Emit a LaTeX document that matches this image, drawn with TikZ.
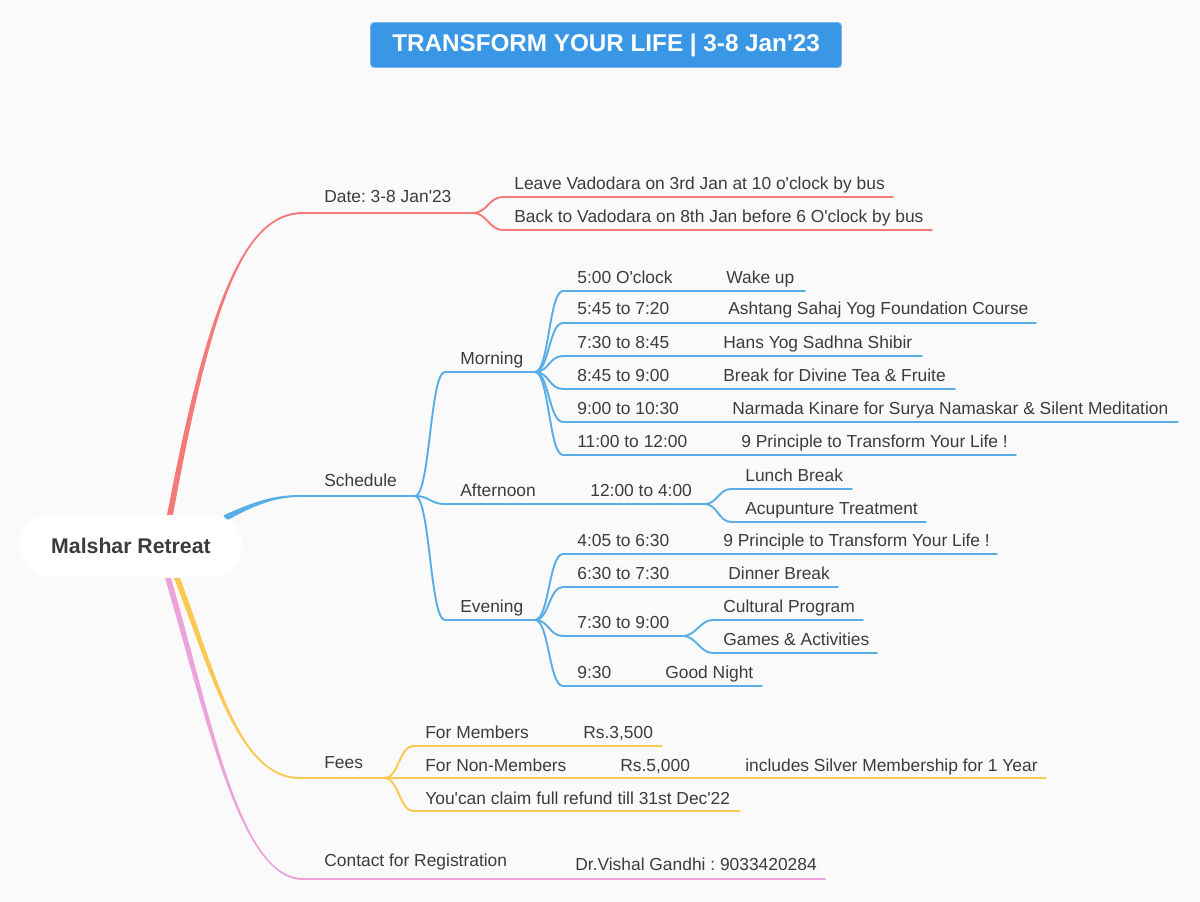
\documentclass[tikz,border=0pt]{standalone}
\usepackage{fontspec}
\setmainfont{Liberation Sans}
\usetikzlibrary{calc}
\frenchspacing

\definecolor{bgcol}{HTML}{FAFAFA}
\definecolor{titleblue}{HTML}{3A97E6}
\definecolor{txtgray}{HTML}{3C3C3C}
\definecolor{mmred}{HTML}{F47A7A}
\definecolor{mmblue}{HTML}{5AAEE6}
\definecolor{mmyellow}{HTML}{FBC853}
\definecolor{mmpink}{HTML}{EBA3DA}

\newcommand\apo{\textquotesingle}

\tikzset{
  lbl/.style={font=\fontsize{9.9}{11.5}\selectfont, text=txtgray, anchor=base west, inner sep=0pt},
  titlebox/.style={fill=titleblue, draw=titleblue!70!white, text=white, rounded corners=2pt,
    minimum width=9.42cm, minimum height=0.9cm, inner sep=0pt,
    font=\bfseries\fontsize{13.8}{16}\selectfont},
  rootbox/.style={fill=white, rounded corners=0.6cm, minimum width=4.44cm, minimum height=1.24cm,
    text=txtgray, font=\bfseries\fontsize{12.1}{14}\selectfont},
  redline/.style={draw=mmred, line width=1.1pt},
  blueline/.style={draw=mmblue, line width=1.1pt},
  yellowline/.style={draw=mmyellow, line width=1.1pt},
  pinkline/.style={draw=mmpink, line width=1.1pt}
}

\begin{document}
\begin{tikzpicture}[x=0.02cm, y=-0.02cm, line cap=round]
  \fill[bgcol] (0,0) rectangle (1200,902);
  \useasboundingbox (0,0) rectangle (1200,902);

  \node[titlebox] (title) at (606,45) {TRANSFORM YOUR LIFE | 3-8 Jan\apo23};

  % root exits and main lines
  \coordinate (r-date) at (170,515);
  \coordinate (r-sched) at (225,518);
  \coordinate (r-fees) at (177,578);
  \coordinate (r-cont) at (168,578);
  \coordinate (date-a) at (303,213);  \coordinate (date-b) at (473,213);
  \coordinate (sched-a) at (300,496); \coordinate (sched-b) at (415,496);
  \coordinate (fees-a) at (300,778);  \coordinate (fees-b) at (385,778);
  \coordinate (cont-a) at (303,879);  \coordinate (cont-b) at (825,879);

  % tapered main branches
  \fill[mmred] ($(r-date)+(-3,0)$) .. controls (208,300) and (245,212) .. ($(date-a)+(0,-1)$)
    -- ($(date-a)+(0,1)$) .. controls (245,214) and (212,300) .. ($(r-date)+(3,0)$) -- cycle;
  \fill[mmblue] ($(r-sched)+(-1.4,-2.7)$) .. controls (255,501) and (275,495) .. ($(sched-a)+(0,-1)$)
    -- ($(sched-a)+(0,1)$) .. controls (275,497) and (255,505) .. ($(r-sched)+(1.4,2.7)$) -- cycle;
  \fill[mmyellow] ($(r-fees)+(-3,0)$) .. controls (213,680) and (240,779) .. ($(fees-a)+(0,1)$)
    -- ($(fees-a)+(0,-1)$) .. controls (240,777) and (218,680) .. ($(r-fees)+(3,0)$) -- cycle;
  \fill[mmpink] ($(r-cont)+(-3,0)$) .. controls (207,720) and (240,880) .. ($(cont-a)+(0,1)$)
    -- ($(cont-a)+(0,-1)$) .. controls (240,878) and (212,720) .. ($(r-cont)+(3,0)$) -- cycle;

  \node[rootbox] (root) at (131,546) {Malshar Retreat};

  % Date
  \draw[redline] (date-a) -- (date-b);
  \node[lbl] (t-date) at (324,203) {Date: 3-8 Jan\apo23};
  \coordinate (leave-a) at (503,197); \coordinate (leave-b) at (893,197);
  \coordinate (back-a) at (503,230);  \coordinate (back-b) at (932,230);
  \draw[redline] (date-b) .. controls +(14,0) and +(-14,0) .. (leave-a) -- (leave-b);
  \draw[redline] (date-b) .. controls +(14,0) and +(-14,0) .. (back-a) -- (back-b);
  \node[lbl] (t-leave) at (514,190) {Leave Vadodara on 3rd Jan at 10 o\apo clock by bus};
  \node[lbl] (t-back) at (514,223) {Back to Vadodara on 8th Jan before 6 O\apo clock by bus};

  % Schedule
  \draw[blueline] (sched-a) -- (sched-b);
  \node[lbl] (t-sched) at (324,486) {Schedule};
  \coordinate (morn-a) at (445,372); \coordinate (morn-b) at (535,372);
  \coordinate (aft-a) at (445,504);  \coordinate (aft-b) at (705,504);
  \coordinate (eve-a) at (445,620);  \coordinate (eve-b) at (535,620);
  \foreach \part in {morn,aft,eve}
    \draw[blueline] (sched-b) .. controls +(15,0) and +(-15,0) .. (\part-a) -- (\part-b);
  \node[lbl] (t-morn) at (460,364) {Morning};
  \node[lbl] (t-aft) at (460,496) {Afternoon};
  \node[lbl] (t-aft2) at (590,496) {12:00 to 4:00};
  \node[lbl] (t-eve) at (460,612) {Evening};

  % Morning
  \foreach \k/\y/\xe in {1/291/805, 2/323/1036, 3/356/922, 4/389/955, 5/422/1178, 6/455/1016} {
    \coordinate (m\k-a) at (563,\y);
    \coordinate (m\k-b) at (\xe,\y);
    \draw[blueline] (morn-b) .. controls +(14,0) and +(-14,0) .. (m\k-a) -- (m\k-b);
  }
  \node[lbl] (m1-t) at (577,283) {5:00 O\apo clock};
  \node[lbl] (m1-d) at (726,283) {Wake up};
  \node[lbl] (m2-t) at (577,315) {5:45 to 7:20};
  \node[lbl] (m2-d) at (728,315) {Ashtang Sahaj Yog Foundation Course};
  \node[lbl] (m3-t) at (577,348) {7:30 to 8:45};
  \node[lbl] (m3-d) at (723,348) {Hans Yog Sadhna Shibir};
  \node[lbl] (m4-t) at (577,381) {8:45 to 9:00};
  \node[lbl] (m4-d) at (723,381) {Break for Divine Tea \& Fruite};
  \node[lbl] (m5-t) at (577,414) {9:00 to 10:30};
  \node[lbl] (m5-d) at (732,414) {Narmada Kinare for Surya Namaskar \& Silent Meditation};
  \node[lbl] (m6-t) at (577,447) {11:00 to 12:00};
  \node[lbl] (m6-d) at (741,447) {9 Principle to Transform Your Life !};

  % Afternoon
  \coordinate (a1-a) at (731,489); \coordinate (a1-b) at (852,489);
  \coordinate (a2-a) at (731,522); \coordinate (a2-b) at (926,522);
  \draw[blueline] (aft-b) .. controls +(12,0) and +(-12,0) .. (a1-a) -- (a1-b);
  \draw[blueline] (aft-b) .. controls +(12,0) and +(-12,0) .. (a2-a) -- (a2-b);
  \node[lbl] (a1-t) at (745,481) {Lunch Break};
  \node[lbl] (a2-t) at (745,514) {Acupunture Treatment};

  % Evening
  \foreach \k/\y/\xe in {1/554/997, 2/587/838, 3/636/683, 4/686/762} {
    \coordinate (e\k-a) at (563,\y);
    \coordinate (e\k-b) at (\xe,\y);
    \draw[blueline] (eve-b) .. controls +(14,0) and +(-14,0) .. (e\k-a) -- (e\k-b);
  }
  \node[lbl] (e1-t) at (577,546) {4:05 to 6:30};
  \node[lbl] (e1-d) at (723,546) {9 Principle to Transform Your Life !};
  \node[lbl] (e2-t) at (577,579) {6:30 to 7:30};
  \node[lbl] (e2-d) at (728,579) {Dinner Break};
  \node[lbl] (e3-t) at (577,628) {7:30 to 9:00};
  \node[lbl] (e4-t) at (577,678) {9:30};
  \node[lbl] (e4-d) at (665,678) {Good Night};
  \coordinate (c1-a) at (713,620); \coordinate (c1-b) at (863,620);
  \coordinate (c2-a) at (713,653); \coordinate (c2-b) at (877,653);
  \draw[blueline] (e3-b) .. controls +(13,0) and +(-13,0) .. (c1-a) -- (c1-b);
  \draw[blueline] (e3-b) .. controls +(13,0) and +(-13,0) .. (c2-a) -- (c2-b);
  \node[lbl] (c1-t) at (723,612) {Cultural Program};
  \node[lbl] (c2-t) at (723,645) {Games \& Activities};

  % Fees
  \draw[yellowline] (fees-a) -- (fees-b);
  \node[lbl] (t-fees) at (324,768) {Fees};
  \coordinate (f1-a) at (413,746); \coordinate (f1-b) at (662,746);
  \coordinate (f2-b) at (1046,778);
  \coordinate (f3-a) at (413,811); \coordinate (f3-b) at (740,811);
  \draw[yellowline] (fees-b) .. controls +(13,0) and +(-13,0) .. (f1-a) -- (f1-b);
  \draw[yellowline] (fees-b) -- (f2-b);
  \draw[yellowline] (fees-b) .. controls +(13,0) and +(-13,0) .. (f3-a) -- (f3-b);
  \node[lbl] (f1-t) at (425,738) {For Members};
  \node[lbl] (f1-d) at (583,738) {Rs.3,500};
  \node[lbl] (f2-t) at (425,771) {For Non-Members};
  \node[lbl] (f2-d) at (620,771) {Rs.5,000};
  \node[lbl] (f2-e) at (745,771) {includes Silver Membership for 1 Year};
  \node[lbl] (f3-t) at (425,804) {You\apo can claim full refund till 31st Dec\apo22};

  % Contact
  \draw[pinkline] (cont-a) -- (cont-b);
  \node[lbl] (t-cont) at (324,866) {Contact for Registration};
  \node[lbl] (t-cont2) at (575,870) {Dr.Vishal Gandhi : 9033420284};
\end{tikzpicture}
\end{document}
